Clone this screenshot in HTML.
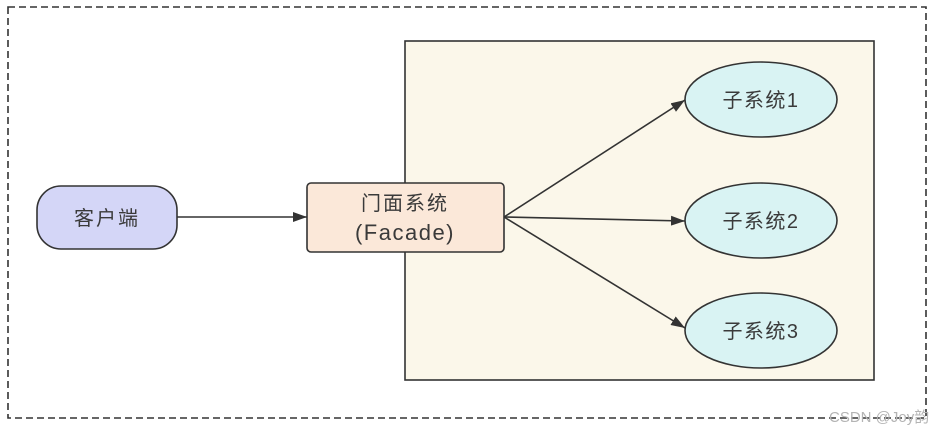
<!DOCTYPE html>
<html><head><meta charset="utf-8"><style>
html,body{margin:0;padding:0;background:#fff;}
svg{display:block;}
text{font-family:"Liberation Sans","Noto Sans CJK SC",sans-serif;fill:#3a3a3a;}
</style></head><body>
<svg width="941" height="432" viewBox="0 0 941 432" xmlns="http://www.w3.org/2000/svg">
<defs>
<marker id="ah" markerWidth="14" markerHeight="10" refX="14" refY="5" orient="auto" markerUnits="userSpaceOnUse">
<path d="M0,0 L14,5 L0,10 Z" fill="#333"/>
</marker>
</defs>
<rect x="8" y="7" width="918" height="411" fill="none" stroke="#333" stroke-width="1.6" stroke-dasharray="7,4"/>
<rect x="405" y="41" width="469" height="339" fill="#fbf7ea" stroke="#333" stroke-width="1.6"/>
<rect x="37" y="186" width="140" height="63" rx="24" ry="24" fill="#d4d6f7" stroke="#333" stroke-width="1.6"/>
<text x="107" y="225" font-size="20" letter-spacing="2" text-anchor="middle">客户端</text>
<rect x="307" y="183" width="197" height="69" rx="4" ry="4" fill="#fbe8d9" stroke="#333" stroke-width="1.6"/>
<text x="405" y="210" font-size="20" letter-spacing="2" text-anchor="middle">门面系统</text>
<text x="405" y="240" font-size="22" letter-spacing="1.5" text-anchor="middle">(Facade)</text>
<ellipse cx="761" cy="99.5" rx="76" ry="37.5" fill="#d9f3f3" stroke="#333" stroke-width="1.6"/>
<text x="761" y="107" font-size="20" letter-spacing="1.5" text-anchor="middle">子系统1</text>
<ellipse cx="761" cy="220.5" rx="76" ry="37.5" fill="#d9f3f3" stroke="#333" stroke-width="1.6"/>
<text x="761" y="228" font-size="20" letter-spacing="1.5" text-anchor="middle">子系统2</text>
<ellipse cx="761" cy="330.5" rx="76" ry="37.5" fill="#d9f3f3" stroke="#333" stroke-width="1.6"/>
<text x="761" y="338" font-size="20" letter-spacing="1.5" text-anchor="middle">子系统3</text>
<line x1="177" y1="217" x2="307" y2="217" stroke="#333" stroke-width="1.6" marker-end="url(#ah)"/>
<line x1="504" y1="217" x2="685" y2="100" stroke="#333" stroke-width="1.6" marker-end="url(#ah)"/>
<line x1="504" y1="217" x2="685" y2="221" stroke="#333" stroke-width="1.6" marker-end="url(#ah)"/>
<line x1="504" y1="217" x2="685" y2="328" stroke="#333" stroke-width="1.6" marker-end="url(#ah)"/>
<text x="829" y="422" font-size="15" style="fill:#b4b4b4">CSDN @Joy韵</text>
</svg>
</body></html>
